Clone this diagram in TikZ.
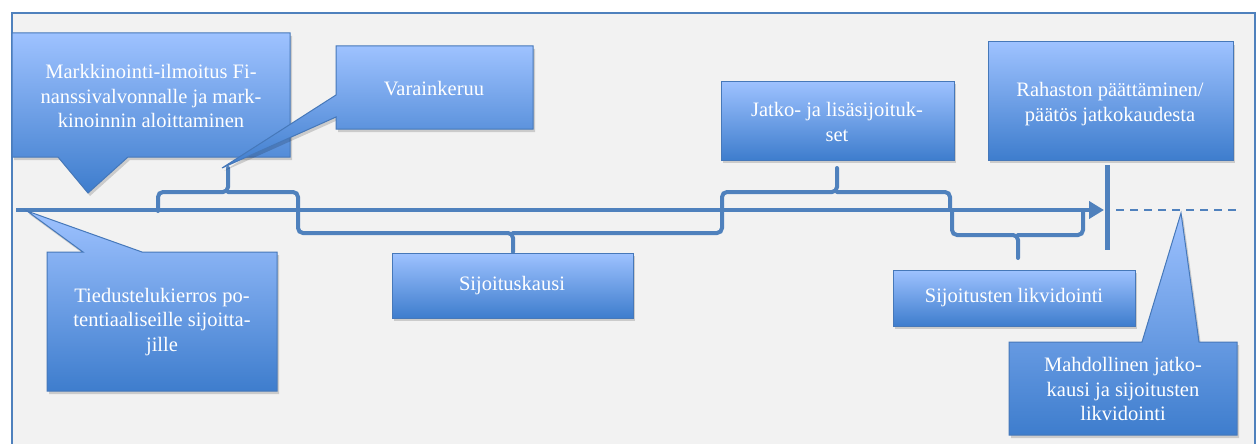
\documentclass[tikz,border=0pt]{standalone}
\usepackage{fontspec}
\setmainfont{Liberation Serif}
\usetikzlibrary{arrows.meta}
\definecolor{boxtop}{RGB}{158,194,255}
\definecolor{boxbot}{RGB}{62,125,205}
\definecolor{boxline}{RGB}{70,120,185}
\definecolor{axis}{RGB}{79,129,189}
\definecolor{panel}{RGB}{242,242,242}
\tikzset{
  boxfill/.style={top color=boxtop, bottom color=boxbot, draw=boxline, line width=1pt},
  shadowfill/.style={fill=black, opacity=0.16},
  boxtext/.style={text=white, font=\fontsize{20.5}{24.5}\selectfont, align=center, inner sep=0pt},
  bracepath/.style={draw=axis, line width=4pt, rounded corners=5pt, line cap=round},
  axisline/.style={draw=axis, line width=4.5pt},
}
\newcommand\myshape[1]{\fill[shadowfill,shift={(2,3)}] #1; \shade[boxfill] #1;}
\begin{document}
\begin{tikzpicture}[x=1pt,y=-1pt]
\useasboundingbox (0,0) rectangle (1260,444);
\clip (0,0) rectangle (1260,444);
% panel
\draw[fill=panel, draw=axis, line width=1.2pt] (12,13) rectangle (1255,460);

% braces
\draw[bracepath] (158,211) -- (158,192) -- (228,192) -- (228,168);
\draw[bracepath] (228,192) -- (298,192) -- (298,211);
\draw[bracepath] (298,210) -- (298,233) -- (513,233) -- (513,252);
\draw[bracepath] (513,233) -- (722,233) -- (722,210);
\draw[bracepath] (722,210) -- (722,192) -- (837,192) -- (837,168);
\draw[bracepath] (837,192) -- (950,192) -- (950,210);
\draw[bracepath] (952,210) -- (952,235) -- (1018,235) -- (1018,258);
\draw[bracepath] (1018,235) -- (1083,235) -- (1083,210);

% timeline
\coordinate (start) at (16,210);
\coordinate (end) at (1104,210);
\draw[axisline, -{Triangle[length=15pt,width=17pt]}] (start) -- (end);
\coordinate (bartop) at (1107,165);
\coordinate (barbot) at (1107,250);
\draw[draw=axis, line width=5pt] (bartop) -- (barbot);
\coordinate (dstart) at (1116,210);
\coordinate (dend) at (1237,210);
\draw[draw=axis, line width=1.6pt, dash pattern=on 8pt off 6pt] (dstart) -- (dend);

% callouts and boxes
\myshape{(12,33) -- (290,33) -- (290,157) -- (128,157) -- (88,193) -- (58,157) -- (12,157) -- cycle}
\myshape{(47,252) -- (83,252) -- (27,211) -- (142,252) -- (277,252) -- (277,391) -- (47,391) -- cycle}
\myshape{(336,46) -- (533,46) -- (533,129) -- (336,129) -- (336,117) -- (222,168) -- (336,95) -- cycle}
\myshape{(1009,342) -- (1142,342) -- (1181,213) -- (1199,342) -- (1237,342) -- (1237,435) -- (1009,435) -- cycle}
\myshape{(392,253) rectangle (633,318)}
\myshape{(721,81) rectangle (954,160)}
\myshape{(988,42) rectangle (1233,160)}
\myshape{(893,270) rectangle (1135,326)}

% texts
\node[boxtext] (markkinointi) at (151,96) {Markkinointi-ilmoitus Fi-\\nanssivalvonnalle ja mark-\\kinoinnin aloittaminen};
\node[boxtext] (tiedustelu) at (162,322) {Tiedustelukierros po-\\tentiaaliseille sijoitta-\\jille};
\node[boxtext] (varainkeruu) at (434,89) {Varainkeruu};
\node[boxtext] (sijoituskausi) at (512,286) {Sijoituskausi};
\node[boxtext] (jatko) at (837,122) {Jatko- ja lisäsijoituk-\\set};
\node[boxtext] (rahaston) at (1110,104) {Rahaston päättäminen/\\päätös jatkokaudesta};
\node[boxtext] (likvidointi) at (1014,298) {Sijoitusten likvidointi};
\node[boxtext] (mahdollinen) at (1123,389) {Mahdollinen jatko-\\kausi ja sijoitusten\\likvidointi};
\end{tikzpicture}
\end{document}
